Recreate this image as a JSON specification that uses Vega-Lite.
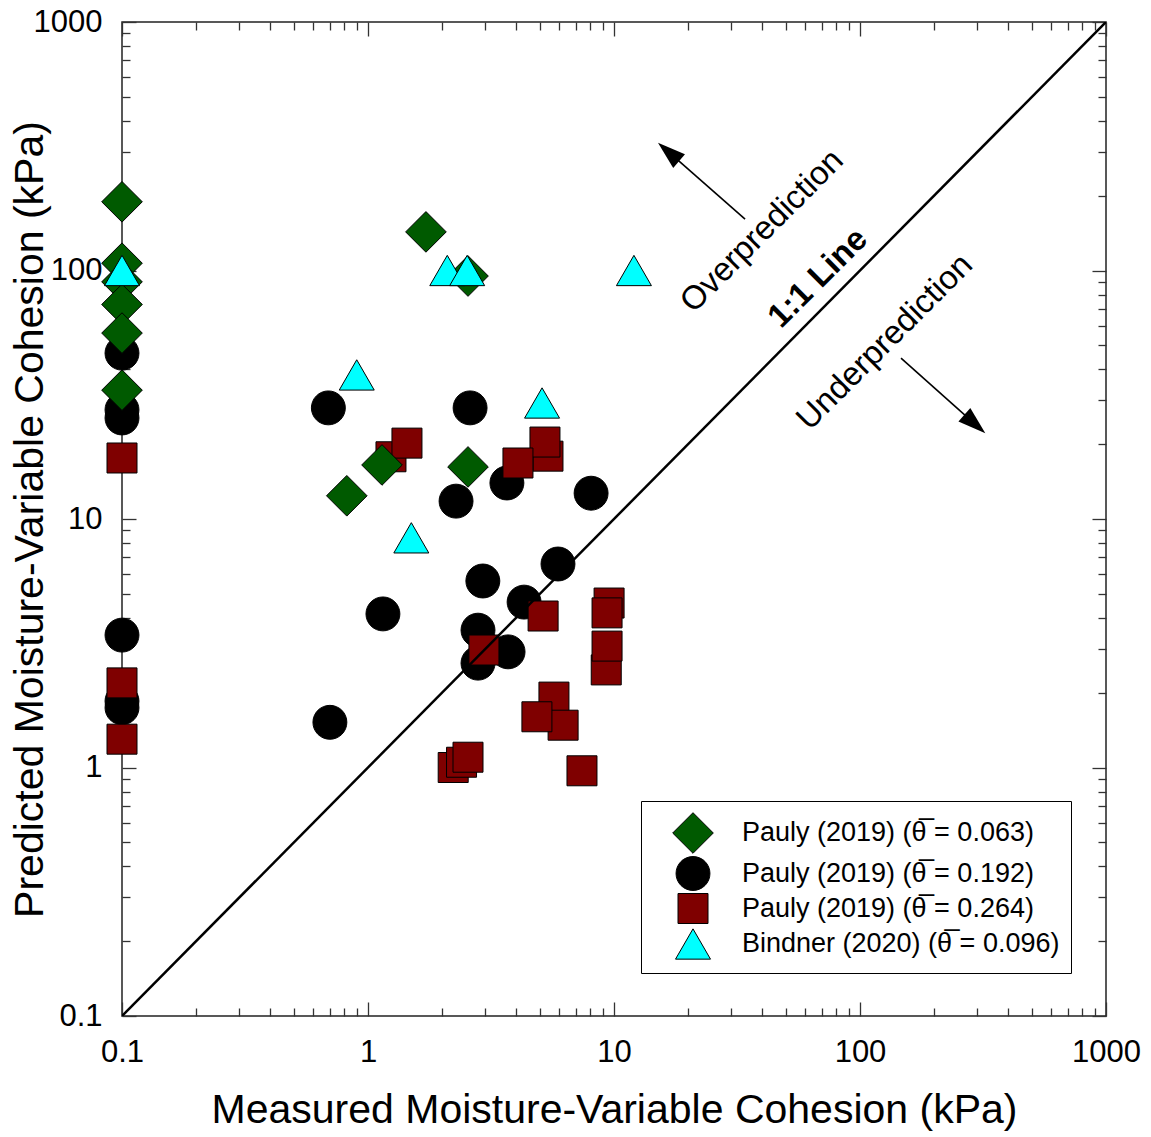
{
  "$schema": "https://vega.github.io/schema/vega-lite/v6.json",
  "width": 984,
  "height": 994,
  "autosize": {"type": "none"},
  "padding": {"left": 122, "top": 22, "right": 45, "bottom": 121},
  "background": "white",
  "config": {
    "view": {"stroke": "#222", "strokeWidth": 1.5},
    "font": "Liberation Sans",
    "axis": {
      "grid": false,
      "domain": false,
      "tickColor": "#333",
      "tickWidth": 1.3,
      "labelFont": "Liberation Sans",
      "labelFontSize": 31,
      "labelColor": "black",
      "titleFont": "Liberation Sans",
      "titleFontSize": 41,
      "titleFontWeight": "normal",
      "titleColor": "black",
      "labelFlush": false,
      "labelOverlap": false,
      "labelBound": false
    }
  },
  "datasets": {
    "pts": [
      {"x": 0.1, "y": 46.5, "s": "Pauly (2019) (θ̅ = 0.192)"},
      {"x": 0.1, "y": 27.5, "s": "Pauly (2019) (θ̅ = 0.192)"},
      {"x": 0.1, "y": 25.5, "s": "Pauly (2019) (θ̅ = 0.192)"},
      {"x": 0.1, "y": 3.41, "s": "Pauly (2019) (θ̅ = 0.192)"},
      {"x": 0.1, "y": 1.85, "s": "Pauly (2019) (θ̅ = 0.192)"},
      {"x": 0.1, "y": 1.74, "s": "Pauly (2019) (θ̅ = 0.192)"},
      {"x": 0.69, "y": 28, "s": "Pauly (2019) (θ̅ = 0.192)"},
      {"x": 2.6, "y": 28, "s": "Pauly (2019) (θ̅ = 0.192)"},
      {"x": 2.28, "y": 11.8, "s": "Pauly (2019) (θ̅ = 0.192)"},
      {"x": 3.67, "y": 13.96, "s": "Pauly (2019) (θ̅ = 0.192)"},
      {"x": 8.07, "y": 12.7, "s": "Pauly (2019) (θ̅ = 0.192)"},
      {"x": 5.92, "y": 6.59, "s": "Pauly (2019) (θ̅ = 0.192)"},
      {"x": 2.93, "y": 5.63, "s": "Pauly (2019) (θ̅ = 0.192)"},
      {"x": 1.15, "y": 4.15, "s": "Pauly (2019) (θ̅ = 0.192)"},
      {"x": 4.31, "y": 4.63, "s": "Pauly (2019) (θ̅ = 0.192)"},
      {"x": 2.8, "y": 3.57, "s": "Pauly (2019) (θ̅ = 0.192)"},
      {"x": 3.71, "y": 2.92, "s": "Pauly (2019) (θ̅ = 0.192)"},
      {"x": 2.8, "y": 2.63, "s": "Pauly (2019) (θ̅ = 0.192)"},
      {"x": 0.7, "y": 1.52, "s": "Pauly (2019) (θ̅ = 0.192)"},
      {"x": 0.1, "y": 17.6, "s": "Pauly (2019) (θ̅ = 0.264)"},
      {"x": 0.1, "y": 2.19, "s": "Pauly (2019) (θ̅ = 0.264)"},
      {"x": 0.1, "y": 1.3, "s": "Pauly (2019) (θ̅ = 0.264)"},
      {"x": 1.24, "y": 17.8, "s": "Pauly (2019) (θ̅ = 0.264)"},
      {"x": 1.44, "y": 20.2, "s": "Pauly (2019) (θ̅ = 0.264)"},
      {"x": 5.39, "y": 17.9, "s": "Pauly (2019) (θ̅ = 0.264)"},
      {"x": 5.24, "y": 20.4, "s": "Pauly (2019) (θ̅ = 0.264)"},
      {"x": 4.07, "y": 16.8, "s": "Pauly (2019) (θ̅ = 0.264)"},
      {"x": 5.15, "y": 4.07, "s": "Pauly (2019) (θ̅ = 0.264)"},
      {"x": 2.96, "y": 2.97, "s": "Pauly (2019) (θ̅ = 0.264)"},
      {"x": 9.55, "y": 4.59, "s": "Pauly (2019) (θ̅ = 0.264)"},
      {"x": 9.37, "y": 4.19, "s": "Pauly (2019) (θ̅ = 0.264)"},
      {"x": 9.3, "y": 2.47, "s": "Pauly (2019) (θ̅ = 0.264)"},
      {"x": 9.37, "y": 3.08, "s": "Pauly (2019) (θ̅ = 0.264)"},
      {"x": 5.7, "y": 1.92, "s": "Pauly (2019) (θ̅ = 0.264)"},
      {"x": 6.21, "y": 1.48, "s": "Pauly (2019) (θ̅ = 0.264)"},
      {"x": 4.86, "y": 1.6, "s": "Pauly (2019) (θ̅ = 0.264)"},
      {"x": 2.22, "y": 1.0, "s": "Pauly (2019) (θ̅ = 0.264)"},
      {"x": 2.4, "y": 1.05, "s": "Pauly (2019) (θ̅ = 0.264)"},
      {"x": 2.55, "y": 1.1, "s": "Pauly (2019) (θ̅ = 0.264)"},
      {"x": 7.41, "y": 0.97, "s": "Pauly (2019) (θ̅ = 0.264)"},
      {"x": 0.1, "y": 189, "s": "Pauly (2019) (θ̅ = 0.063)"},
      {"x": 0.1, "y": 107, "s": "Pauly (2019) (θ̅ = 0.063)"},
      {"x": 0.1, "y": 90, "s": "Pauly (2019) (θ̅ = 0.063)"},
      {"x": 0.1, "y": 73, "s": "Pauly (2019) (θ̅ = 0.063)"},
      {"x": 0.1, "y": 56, "s": "Pauly (2019) (θ̅ = 0.063)"},
      {"x": 0.1, "y": 33, "s": "Pauly (2019) (θ̅ = 0.063)"},
      {"x": 1.72, "y": 143, "s": "Pauly (2019) (θ̅ = 0.063)"},
      {"x": 2.55, "y": 95, "s": "Pauly (2019) (θ̅ = 0.063)"},
      {"x": 1.14, "y": 16.5, "s": "Pauly (2019) (θ̅ = 0.063)"},
      {"x": 0.82, "y": 12.4, "s": "Pauly (2019) (θ̅ = 0.063)"},
      {"x": 2.55, "y": 16.2, "s": "Pauly (2019) (θ̅ = 0.063)"},
      {"x": 0.1, "y": 100, "s": "Bindner (2020) (θ̅ = 0.096)"},
      {"x": 2.1, "y": 100, "s": "Bindner (2020) (θ̅ = 0.096)"},
      {"x": 2.53, "y": 100, "s": "Bindner (2020) (θ̅ = 0.096)"},
      {"x": 12.05, "y": 100, "s": "Bindner (2020) (θ̅ = 0.096)"},
      {"x": 0.9, "y": 38, "s": "Bindner (2020) (θ̅ = 0.096)"},
      {"x": 5.1, "y": 29.3, "s": "Bindner (2020) (θ̅ = 0.096)"},
      {"x": 1.5, "y": 8.4, "s": "Bindner (2020) (θ̅ = 0.096)"}
    ]
  },
  "layer": [
    {
      "data": {"name": "pts"},
      "mark": {"type": "point", "filled": true, "stroke": "black", "strokeWidth": 1, "opacity": 1, "fillOpacity": 1},
      "encoding": {
        "x": {
          "field": "x", "type": "quantitative",
          "scale": {"type": "log", "domain": [0.1, 1000], "nice": false},
          "axis": {
            "orient": "bottom",
            "title": "Measured Moisture-Variable Cohesion (kPa)",
            "values": [0.1,0.2,0.3,0.4,0.5,0.6,0.7,0.8,0.9,1,2,3,4,5,6,7,8,9,10,20,30,40,50,60,70,80,90,100,200,300,400,500,600,700,800,900,1000],
            "labelExpr": "abs(log(datum.value)/LN10 - round(log(datum.value)/LN10)) < 0.000001 ? format(datum.value, '~g') : ''",
            "tickSize": {"condition": {"test": "abs(log(datum.value)/LN10 - round(log(datum.value)/LN10)) < 0.000001", "value": -14}, "value": -8},
            "labelPadding": 35,
            "labelBaseline": "top",
            "titleX": 492,
            "titleY": 106,
            "titleBaseline": "alphabetic",
            "titleAlign": "center"
          }
        },
        "y": {
          "field": "y", "type": "quantitative",
          "scale": {"type": "log", "domain": [0.1, 1000], "nice": false},
          "axis": {
            "orient": "left",
            "title": "Predicted Moisture-Variable Cohesion (kPa)",
            "values": [0.1,0.2,0.3,0.4,0.5,0.6,0.7,0.8,0.9,1,2,3,4,5,6,7,8,9,10,20,30,40,50,60,70,80,90,100,200,300,400,500,600,700,800,900,1000],
            "labelExpr": "abs(log(datum.value)/LN10 - round(log(datum.value)/LN10)) < 0.000001 ? format(datum.value, '~g') : ''",
            "tickSize": {"condition": {"test": "abs(log(datum.value)/LN10 - round(log(datum.value)/LN10)) < 0.000001", "value": -14}, "value": -8},
            "labelPadding": 34,
            "titleX": -80,
            "titleY": 497,
            "titleAngle": -90,
            "titleBaseline": "alphabetic",
            "titleAlign": "center"
          }
        },
        "color": {
          "field": "s", "type": "nominal",
          "scale": {
            "domain": ["Pauly (2019) (θ̅ = 0.063)", "Pauly (2019) (θ̅ = 0.192)", "Pauly (2019) (θ̅ = 0.264)", "Bindner (2020) (θ̅ = 0.096)"],
            "range": ["#005a00", "#000000", "#7f0000", "#00ffff"]
          },
          "legend": {
            "title": null,
            "orient": "none",
            "legendX": 519,
            "legendY": 779,
            "padding": 11,
            "strokeColor": "black",
            "fillColor": "white",
            "labelFont": "Liberation Sans",
            "labelFontSize": 27,
            "labelColor": "black",
            "labelLimit": 500,
            "labelOffset": 28,
            "symbolOffset": 20,
            "symbolStrokeColor": "black",
            "symbolStrokeWidth": 1,
            "rowPadding": -4
          }
        },
        "shape": {
          "field": "s", "type": "nominal",
          "scale": {
            "domain": ["Pauly (2019) (θ̅ = 0.063)", "Pauly (2019) (θ̅ = 0.192)", "Pauly (2019) (θ̅ = 0.264)", "Bindner (2020) (θ̅ = 0.096)"],
            "range": ["diamond", "circle", "square", "triangle-up"]
          }
        },
        "size": {
          "field": "s", "type": "nominal",
          "scale": {
            "type": "ordinal",
            "domain": ["Pauly (2019) (θ̅ = 0.063)", "Pauly (2019) (θ̅ = 0.192)", "Pauly (2019) (θ̅ = 0.264)", "Bindner (2020) (θ̅ = 0.096)"],
            "range": [1650, 1150, 900, 1225]
          }
        }
      }
    },
    {
      "data": {"values": [{"x": 0.1, "y": 0.1}, {"x": 1000, "y": 1000}]},
      "mark": {"type": "line", "color": "black", "strokeWidth": 2.5, "clip": true},
      "encoding": {
        "x": {
          "field": "x", "type": "quantitative",
          "scale": {"type": "log", "domain": [0.1, 1000], "nice": false},
          "axis": {
            "orient": "top",
            "title": null,
            "labels": false,
            "values": [0.1,0.2,0.3,0.4,0.5,0.6,0.7,0.8,0.9,1,2,3,4,5,6,7,8,9,10,20,30,40,50,60,70,80,90,100,200,300,400,500,600,700,800,900,1000],
            "tickSize": {"condition": {"test": "abs(log(datum.value)/LN10 - round(log(datum.value)/LN10)) < 0.000001", "value": -14}, "value": -8}
          }
        },
        "y": {
          "field": "y", "type": "quantitative",
          "scale": {"type": "log", "domain": [0.1, 1000], "nice": false},
          "axis": {
            "orient": "right",
            "title": null,
            "labels": false,
            "values": [0.1,0.2,0.3,0.4,0.5,0.6,0.7,0.8,0.9,1,2,3,4,5,6,7,8,9,10,20,30,40,50,60,70,80,90,100,200,300,400,500,600,700,800,900,1000],
            "tickSize": {"condition": {"test": "abs(log(datum.value)/LN10 - round(log(datum.value)/LN10)) < 0.000001", "value": -14}, "value": -8}
          }
        }
      }
    },
    {
      "data": {"values": [
        {"x": 34.1, "y": 161, "x2": 17.2, "y2": 291.7},
        {"x": 146.8, "y": 44.4, "x2": 267, "y2": 26.2}
      ]},
      "mark": {"type": "rule", "color": "black", "strokeWidth": 1.6},
      "encoding": {
        "x": {"field": "x", "type": "quantitative", "axis": null},
        "y": {"field": "y", "type": "quantitative", "axis": null},
        "x2": {"field": "x2"},
        "y2": {"field": "y2"}
      }
    },
    {
      "data": {"values": [
        {"x": 16.66, "y": 300, "a": 311},
        {"x": 293, "y": 24.1, "a": 131.5}
      ]},
      "mark": {"type": "point", "shape": "M0,-1L0.64,1L-0.64,1Z", "filled": true, "color": "black", "size": 784, "opacity": 1},
      "encoding": {
        "x": {"field": "x", "type": "quantitative", "axis": null},
        "y": {"field": "y", "type": "quantitative", "axis": null},
        "angle": {"field": "a", "type": "quantitative", "scale": null}
      }
    },
    {
      "data": {"values": [
        {"x": 40, "y": 144, "t": "Overprediction"},
        {"x": 126, "y": 51.5, "t": "Underprediction"}
      ]},
      "mark": {"type": "text", "angle": -45, "font": "Liberation Sans", "fontSize": 33, "align": "center", "baseline": "middle", "color": "black"},
      "encoding": {
        "x": {"field": "x", "type": "quantitative", "axis": null},
        "y": {"field": "y", "type": "quantitative", "axis": null},
        "text": {"field": "t"}
      }
    },
    {
      "data": {"values": [{"x": 67.5, "y": 93.3, "t": "1:1 Line"}]},
      "mark": {"type": "text", "angle": -45, "font": "Liberation Sans", "fontSize": 33, "fontWeight": "bold", "align": "center", "baseline": "middle", "color": "black"},
      "encoding": {
        "x": {"field": "x", "type": "quantitative", "axis": null},
        "y": {"field": "y", "type": "quantitative", "axis": null},
        "text": {"field": "t"}
      }
    }
  ],
  "resolve": {"axis": {"x": "independent", "y": "independent"}}
}
